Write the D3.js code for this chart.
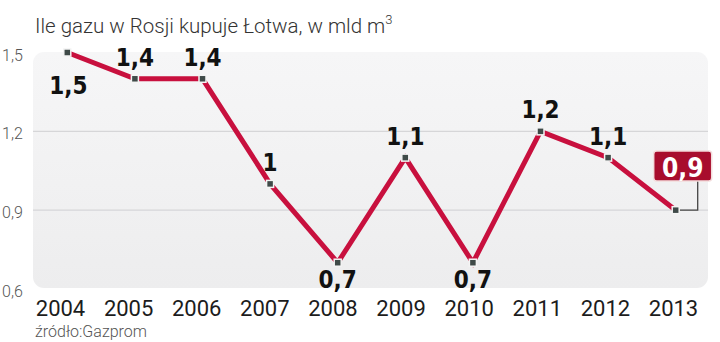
<!DOCTYPE html>
<html>
<head>
<meta charset="utf-8">
<script src="https://cdn.jsdelivr.net/npm/d3@7"></script>
<style>
  html, body { margin: 0; padding: 0; background: #fff; }
  svg { display: block; }
</style>
</head>
<body>
<svg id="chart" width="720" height="342"></svg>
<script>
// Latvian purchases of Russian gas, bcm
const years = ["2004", "2005", "2006", "2007", "2008", "2009", "2010", "2011", "2012", "2013"];
const volumes = [1.5, 1.4, 1.4, 1.0, 0.7, 1.1, 0.7, 1.2, 1.1, 0.9];
const yTicks = [0.6, 0.9, 1.2, 1.5];
const titleText = "Ile gazu w Rosji kupuje Łotwa, w mld m";
const sourceText = "źródło:Gazprom";

const svg = d3.select("#chart");
const fmt = v => d3.format(".1f")(v).replace(".", ",").replace(/,0$/, "");

const panel = { left: 33, right: 708, top: 52, bottom: 288 };

const x = d3.scalePoint().domain(years).range([67.3, 675.7]);
const xLabel = d3.scalePoint().domain(years).range([60, 673]);
const y = d3.scaleLinear().domain([0.6, 1.5]).range([289, 52.5]);

// panel background
const defs = svg.append("defs");
const grad = defs.append("linearGradient").attr("id", "panelFill")
  .attr("x1", 0).attr("y1", 0).attr("x2", 0).attr("y2", 1);
grad.append("stop").attr("offset", "0%").attr("stop-color", "#f6f6f7");
grad.append("stop").attr("offset", "100%").attr("stop-color", "#ededee");

svg.append("rect")
  .attr("x", panel.left).attr("y", panel.top)
  .attr("width", panel.right - panel.left).attr("height", panel.bottom - panel.top)
  .attr("rx", 11).attr("fill", "url(#panelFill)");

// gridlines (inner ticks only)
svg.append("g").selectAll("line")
  .data(yTicks.filter(t => t > 0.6 && t < 1.5))
  .join("line")
  .attr("x1", panel.left).attr("x2", panel.right)
  .attr("y1", d => y(d)).attr("y2", d => y(d))
  .attr("stroke", "#d6d6d8").attr("stroke-width", 1.2);

// y axis labels
const yAxis = d3.axisLeft(y).tickValues(yTicks).tickFormat(d => d3.format(".1f")(d).replace(".", ",")).tickSize(0);
const gy = svg.append("g").attr("transform", "translate(2,0)").call(yAxis);
gy.select(".domain").remove();
gy.selectAll("text")
  .attr("x", 0).attr("dy", "0.72em").attr("y", 0)
  .attr("transform", "translate(0,-4)")
  .attr("text-anchor", "start")
  .attr("font-family", "Roboto, sans-serif").attr("font-weight", 300)
  .attr("font-size", 16).attr("fill", "#555");

// x axis labels
const xAxis = d3.axisBottom(xLabel).tickSize(0);
const gx = svg.append("g").attr("transform", "translate(0,300)").call(xAxis);
gx.select(".domain").remove();
gx.selectAll("text")
  .attr("y", 0).attr("dy", "0.72em")
  .attr("font-family", "Roboto, sans-serif").attr("font-weight", 400)
  .attr("font-size", 22).attr("fill", "#1c1c1c");

// title
const title = svg.append("text")
  .attr("x", 35).attr("y", 33)
  .attr("font-family", "Roboto, sans-serif").attr("font-weight", 300)
  .attr("font-size", 20.5).attr("fill", "#333")
  .text(titleText);
title.append("tspan").attr("dy", -9).attr("font-size", 13).text("3");

// source
svg.append("text")
  .attr("x", 35).attr("y", 337)
  .attr("font-family", "Roboto, sans-serif").attr("font-weight", 300)
  .attr("font-size", 16).attr("fill", "#555")
  .text(sourceText);

const data = years.map((yr, i) => ({ year: yr, value: volumes[i] }));
const last = data[data.length - 1];

// callout for the latest year
const boxCx = x(last.year) + 7, boxTop = 151, boxH = 30, boxW = 58;
svg.append("path")
  .attr("d", `M${x(last.year)},${y(last.value)} H${x(last.year) + 22} V${boxTop + boxH}`)
  .attr("fill", "none").attr("stroke", "#444").attr("stroke-width", 1.3);

// line
svg.append("path")
  .datum(data)
  .attr("d", d3.line().x(d => x(d.year)).y(d => y(d.value)))
  .attr("fill", "none").attr("stroke", "#c8103e")
  .attr("stroke-width", 5).attr("stroke-linejoin", "miter");

// markers
svg.append("g").selectAll("rect")
  .data(data)
  .join("rect")
  .attr("x", d => x(d.year) - 3.5).attr("y", d => y(d.value) - 3.5)
  .attr("width", 7).attr("height", 7)
  .attr("fill", "#3f4a48").attr("stroke", "#f4f4f4").attr("stroke-width", 1.5);

// value labels
const below = new Set(["2004", "2008", "2010"]);
const labelFont = "'DejaVu Sans Condensed', 'DejaVu Sans', sans-serif";
svg.append("g").selectAll("text")
  .data(data.slice(0, -1))
  .join("text")
  .attr("x", d => x(d.year) + (d.year === "2004" ? 1 : 0))
  .attr("y", d => y(d.value) + (below.has(d.year) ? (d.year === "2004" ? 41 : 25) : -13))
  .attr("text-anchor", "middle")
  .attr("font-family", labelFont).attr("font-weight", 700)
  .attr("font-size", 24).attr("fill", "#111")
  .text(d => fmt(d.value));

svg.append("rect")
  .attr("x", boxCx - boxW / 2).attr("y", boxTop)
  .attr("width", boxW).attr("height", boxH).attr("rx", 3)
  .attr("fill", "#a80d2d").attr("stroke", "#f3dcdc").attr("stroke-width", 1.5);
svg.append("text")
  .attr("x", boxCx).attr("y", boxTop + boxH - 4)
  .attr("text-anchor", "middle")
  .attr("font-family", labelFont).attr("font-weight", 700)
  .attr("font-size", 26).attr("fill", "#fff")
  .text(fmt(last.value));
</script>
</body>
</html>
